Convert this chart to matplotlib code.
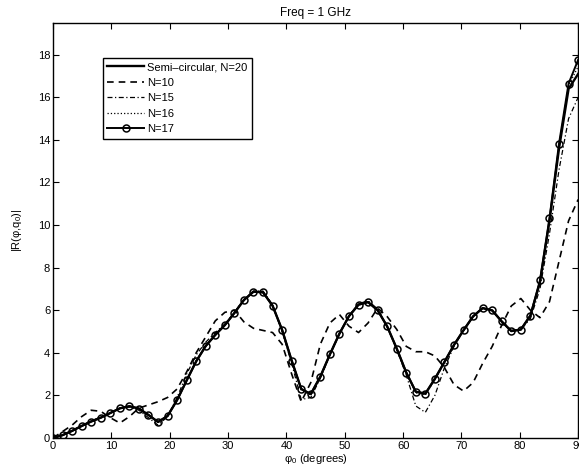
import numpy as np
import matplotlib
matplotlib.use("Agg")
import matplotlib.pyplot as plt

plt.rcParams['font.family'] = ['Liberation Sans', 'DejaVu Sans']
plt.rcParams['mathtext.default'] = 'regular'

# azimuth samples (degrees), 56 points from 0 to 90
phi0 = np.linspace(0, 90, 56)

# |R| for each model
semi_n20 = [0, 0.13, 0.33, 0.56, 0.77, 0.95, 1.17, 1.39, 1.49, 1.38,
            1.08, 0.75, 1.03, 1.78, 2.70, 3.60, 4.32, 4.84, 5.30, 5.87,
            6.48, 6.87, 6.84, 6.21, 5.07, 3.63, 2.30, 2.06, 2.88, 3.92,
            4.90, 5.72, 6.26, 6.38, 6.00, 5.24, 4.20, 3.07, 2.17, 2.08,
            2.78, 3.57, 4.37, 5.06, 5.71, 6.10, 5.99, 5.47, 5.02, 5.09,
            5.75, 7.30, 10.20, 13.60, 16.40, 17.10]
n10 = [0, 0.30, 0.60, 1.00, 1.30, 1.25, 0.95, 0.70, 1.00, 1.40,
       1.55, 1.70, 1.90, 2.30, 3.10, 4.00, 4.75, 5.50, 5.90, 6.00,
       5.45, 5.15, 5.05, 4.95, 4.40, 3.00, 1.70, 2.60, 4.40, 5.40,
       5.80, 5.25, 4.95, 5.40, 6.10, 5.70, 5.10, 4.30, 4.05, 4.05,
       3.85, 3.30, 2.50, 2.20, 2.60, 3.50, 4.30, 5.30, 6.20, 6.55,
       6.00, 5.65, 6.40, 8.30, 10.20, 11.20]
n15 = [0, 0.12, 0.35, 0.58, 0.80, 0.98, 1.18, 1.38, 1.45, 1.30,
       0.95, 0.60, 1.00, 1.90, 3.00, 3.90, 4.50, 4.95, 5.35, 5.90,
       6.50, 6.90, 6.90, 6.25, 5.00, 3.50, 1.80, 1.90, 2.80, 3.90,
       4.90, 5.75, 6.30, 6.45, 6.05, 5.25, 4.15, 2.95, 1.50, 1.20,
       2.00, 3.30, 4.30, 5.05, 5.70, 6.10, 6.00, 5.50, 5.05, 5.10,
       5.60, 7.00, 9.60, 12.60, 15.00, 16.00]
n16 = [0, 0.13, 0.33, 0.56, 0.77, 0.95, 1.17, 1.39, 1.48, 1.37,
       1.07, 0.74, 1.02, 1.80, 2.72, 3.62, 4.33, 4.85, 5.31, 5.88,
       6.48, 6.88, 6.85, 6.20, 5.06, 3.60, 2.25, 2.02, 2.86, 3.91,
       4.90, 5.72, 6.27, 6.39, 6.01, 5.23, 4.18, 3.03, 2.12, 2.02,
       2.74, 3.55, 4.36, 5.05, 5.71, 6.10, 5.99, 5.47, 5.02, 5.09,
       5.72, 7.35, 10.25, 13.70, 16.55, 17.45]
n17 = [0, 0.13, 0.33, 0.56, 0.77, 0.95, 1.17, 1.39, 1.49, 1.38,
       1.08, 0.75, 1.03, 1.78, 2.70, 3.60, 4.32, 4.84, 5.30, 5.87,
       6.48, 6.87, 6.84, 6.21, 5.07, 3.63, 2.30, 2.06, 2.88, 3.92,
       4.90, 5.72, 6.26, 6.38, 6.00, 5.24, 4.20, 3.07, 2.17, 2.08,
       2.78, 3.57, 4.37, 5.06, 5.71, 6.10, 5.99, 5.47, 5.02, 5.09,
       5.75, 7.40, 10.32, 13.83, 16.65, 17.76]

x_ticks = [0, 10, 20, 30, 40, 50, 60, 70, 80, 90]
y_ticks = [0, 2, 4, 6, 8, 10, 12, 14, 16, 18]

fig = plt.figure(figsize=(5.79, 4.76), dpi=100)
ax = fig.add_axes([0.0915, 0.08, 0.907, 0.872])

ax.plot(phi0, semi_n20, 'k-', lw=1.7, label='Semi\u2013circular, N=20')
ax.plot(phi0, n10, 'k--', lw=1.2, dashes=(4, 3), label='N=10')
ax.plot(phi0, n15, 'k-.', lw=0.9, dashes=(4, 2, 1, 2), label='N=15')
ax.plot(phi0, n16, 'k:', lw=0.9, label='N=16')
ax.plot(phi0, n17, 'k-', lw=1.4, marker='o', ms=5, mfc='none', mew=1.1,
        label='N=17')

ax.set_xlim(0, 90)
ax.set_ylim(0, 19.5)
ax.set_xticks(x_ticks)
ax.set_yticks(y_ticks)
ax.tick_params(direction='in', top=True, right=True, length=4,
               width=0.8, labelsize=8, pad=2)
for s in ax.spines.values():
    s.set_linewidth(1.0)

ax.set_title('Freq = 1 GHz', fontsize=8.5, pad=5)
ax.set_xlabel('\u03c6$_0$ (degrees)', fontsize=8, labelpad=1)
ax.set_ylabel('|R(\u03c6,q$_0$)|', fontsize=8, labelpad=10)

leg = ax.legend(loc='upper left', bbox_to_anchor=(0.095, 0.916),
                borderaxespad=0, fontsize=8, handlelength=3.3,
                handletextpad=0.3, labelspacing=0.5, borderpad=0.4,
                fancybox=False, framealpha=1)
leg.get_frame().set_edgecolor('black')
leg.get_frame().set_linewidth(1.0)

fig.savefig('out.png', dpi=100)
